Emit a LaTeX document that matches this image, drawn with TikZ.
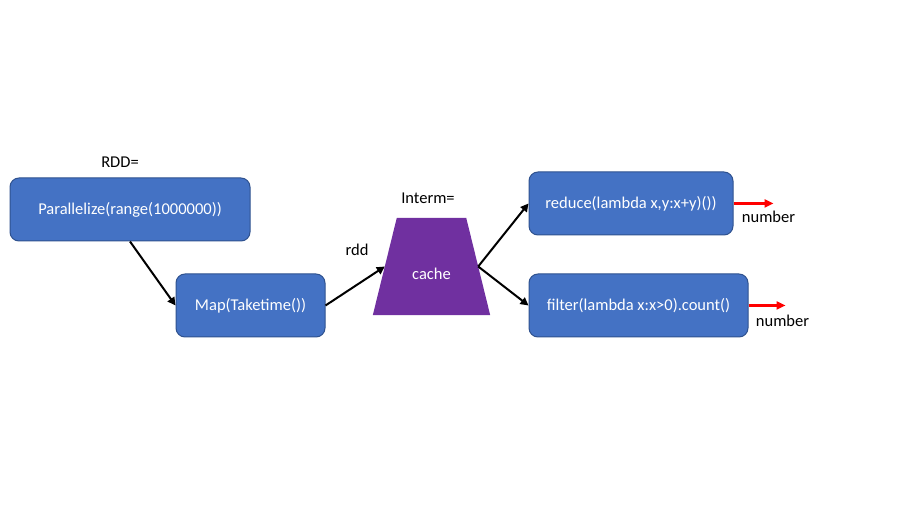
\documentclass[tikz,border=0pt]{standalone}
\usepackage{fontspec}
\setmainfont{Carlito}
\usetikzlibrary{arrows.meta, positioning, backgrounds}
\usepackage{xcolor}
\definecolor{boxblue}{RGB}{68,114,196}
\definecolor{boxborder}{RGB}{47,82,143}
\definecolor{cachepurple}{RGB}{112,48,160}
\tikzset{bluenode/.style={rectangle, rounded corners=9pt, fill=boxblue, draw=boxborder, line width=1pt, text=white, minimum height=63pt, inner sep=0pt}}

\begin{document}
\begin{tikzpicture}[
        font=\fontsize{16.5}{19}\selectfont,
        bluenode/.style={rectangle, rounded corners=9pt, fill=boxblue, draw=boxborder, line width=1pt, text=white, minimum height=63pt, inner sep=0pt},
        purplenode/.style={rectangle, text=white, minimum width=93pt, minimum height=97pt, inner sep=0pt, text height=27pt, text depth=0pt},
        blackarrow/.style={-{Triangle[length=8pt, width=8pt]}, line width=2pt, black},
        redarrow/.style={-{Triangle[length=9pt, width=8pt]}, line width=2.5pt, red}
    ]
        \useasboundingbox (0pt, 0pt) rectangle (900pt, 506pt);
        % Boxes
        \node[bluenode, minimum width=240pt] (parallelize) at (130pt, 296.5pt) {Parallelize(range(1000000))};
        \node[bluenode, minimum width=149pt] (map) at (250.5pt, 200.5pt) {Map(Taketime())};
        \node[purplenode] (cache) at (431.5pt, 239.5pt) {cache};
        \node[bluenode, minimum width=204pt] (reduce) at (631pt, 302.5pt) {reduce(lambda x,y:x+y)())};
        \node[bluenode, minimum width=219pt] (filter) at (638.5pt, 200.5pt) {filter(lambda x:x>0).count()};
        % Background and cache trapezoid
        \begin{scope}[on background layer]
            \fill[white] (0pt, 0pt) rectangle (900pt, 506pt);
            \fill[cachepurple] ([xshift=-12pt]cache.south west) -- ([xshift=12pt]cache.south east)
                -- ([xshift=-12pt]cache.north east) -- ([xshift=12pt]cache.north west) -- cycle;
        \end{scope}
        % Labels
        \node (rddtitle) at (120pt, 344pt) {RDD=};
        \node (intermtitle) at (428pt, 308pt) {Interm=};
        \node (rddlabel) at (357pt, 256pt) {rdd};
        % Arrows
        \draw[blackarrow] (parallelize.south) -- (map.west);
        \draw[blackarrow] (map.east) -- (cache.west);
        \draw[blackarrow] (cache.east) -- (reduce.west);
        \draw[blackarrow] (cache.east) -- (filter.west);
        % Results
        \coordinate (out1) at ([xshift=40pt]reduce.east);
        \coordinate (out2) at ([xshift=37pt]filter.east);
        \draw[redarrow] (reduce.east) -- (out1);
        \draw[redarrow] (filter.east) -- (out2);
        \node (num1) [below=4pt of out1, xshift=-5pt] {number};
        \node (num2) [below=6pt of out2, xshift=-3pt] {number};
    \end{tikzpicture}
\end{document}
